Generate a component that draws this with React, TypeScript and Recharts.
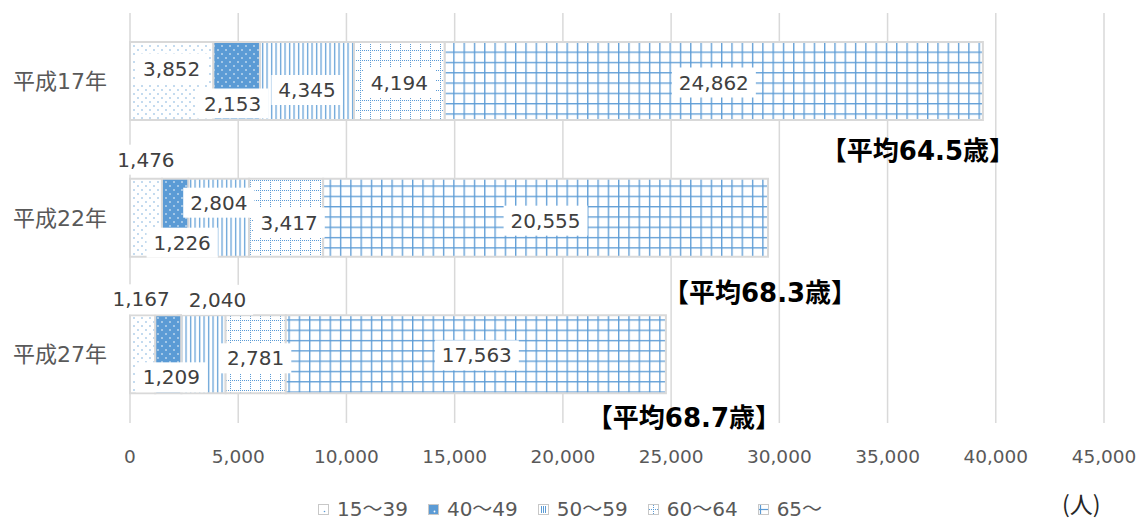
import React from 'react';
import { BarChart, Bar, XAxis, YAxis, CartesianGrid, Legend, LabelList } from 'recharts';

// 年齢階層別の人数（人）
const years = ['平成17年', '平成22年', '平成27年'];
const age15to39 = [3852, 1476, 1167];
const age40to49 = [2153, 1226, 1209];
const age50to59 = [4345, 2804, 2040];
const age60to64 = [4194, 3417, 2781];
const age65plus = [24862, 20555, 17563];
const averageAges = ['64.5', '68.3', '68.7'];
const xTicks = [0, 5000, 10000, 15000, 20000, 25000, 30000, 35000, 40000, 45000];

const series = [
  { key: 'a15', name: '15～39', values: age15to39, pattern: 'pat15' },
  { key: 'a40', name: '40～49', values: age40to49, pattern: 'pat40' },
  { key: 'a50', name: '50～59', values: age50to59, pattern: 'pat50' },
  { key: 'a60', name: '60～64', values: age60to64, pattern: 'pat60' },
  { key: 'a65', name: '65～', values: age65plus, pattern: 'pat65' },
];

// ラベル位置のずれ（Excel の配置に合わせる）[dx, dy]
const labelShift = [
  [[0, -12.5], [0, -58], [-1.5, -55]],
  [[-4, 22.5], [7, 25], [3, 23]],
  [[0, 9], [0, -15], [14, -54.5]],
  [[0, 1.5], [3, 5], [0, 4]],
  [[0, 1.5], [0, 3], [1, 1]],
];
const avgShift = [[-65, 31], [-8, 36], [18, 25]];

const data = years.map((year, i) => {
  const row: any = { year };
  series.forEach((s) => (row[s.key] = s.values[i]));
  return row;
});

const BLUE = '#5B9BD5';
const NUM_FONT = '"DejaVu Sans", "Noto Sans CJK JP", sans-serif';
const fmt = (v: number) => v.toLocaleString('en-US');

const textWidth = (s: string, size: number) =>
  s.split('').reduce((w, c) => w + (c === ',' || c === '.' ? 0.318 : 0.636) * size, 0);

const Patterns = () => (
  <defs>
    <pattern id="pat15" width="8" height="8" patternUnits="userSpaceOnUse">
      <rect width="8" height="8" fill="#fff" />
      <circle cx="2" cy="2" r="0.7" fill={BLUE} />
      <circle cx="6" cy="6" r="0.7" fill={BLUE} />
    </pattern>
    <pattern id="pat40" width="8" height="8" patternUnits="userSpaceOnUse">
      <rect width="8" height="8" fill={BLUE} />
      <circle cx="2" cy="2" r="0.8" fill="#fff" />
      <circle cx="6" cy="6" r="0.8" fill="#fff" />
    </pattern>
    <pattern id="pat50" width="4.5" height="4" patternUnits="userSpaceOnUse">
      <rect width="4.5" height="4" fill="#fff" />
      <rect x="1" width="1.2" height="4" fill={BLUE} />
    </pattern>
    <pattern id="pat60" width="10" height="10" patternUnits="userSpaceOnUse">
      <rect width="10" height="10" fill="#fff" />
      <line x1="0" y1="0.5" x2="10" y2="0.5" stroke={BLUE} strokeWidth="1" strokeDasharray="1 1" />
      <line x1="0.5" y1="0" x2="0.5" y2="10" stroke={BLUE} strokeWidth="1" strokeDasharray="1 1" />
    </pattern>
    <pattern id="pat65" width="10.3" height="10.3" patternUnits="userSpaceOnUse">
      <rect width="10.3" height="10.3" fill="#fff" />
      <line x1="0" y1="0.7" x2="10.3" y2="0.7" stroke={BLUE} strokeWidth="1.3" />
      <line x1="0.7" y1="0" x2="0.7" y2="10.3" stroke={BLUE} strokeWidth="1.3" />
    </pattern>
  </defs>
);

// 最後の系列から全ラベルを描く（他の棒に隠れないように）
const renderAllLabels = (props: any) => {
  const vb = props.viewBox ?? props;
  const { x, y, width, height } = vb;
  const i = typeof props.index === 'number' ? props.index : age65plus.indexOf(Number(props.value));
  if (i < 0) return null;
  const perUnit = width / age65plus[i];
  const before = age15to39[i] + age40to49[i] + age50to59[i] + age60to64[i];
  const x0 = x - before * perUnit;
  const cy = y + height / 2;
  let acc = 0;
  const labels = series.map((s, si) => {
    const v = s.values[i];
    const cx = x0 + (acc + v / 2) * perUnit + labelShift[si][i][0];
    acc += v;
    const ty = cy + labelShift[si][i][1];
    const txt = fmt(v);
    const w = textWidth(txt, 20) + 14;
    return (
      <g key={s.key}>
        <rect x={cx - w / 2} y={ty - 15} width={w} height={30} fill="#fff" />
        <text x={cx} y={ty} textAnchor="middle" dominantBaseline="central" fontSize={20} fontFamily={NUM_FONT} fill="#404040">
          {txt}
        </text>
      </g>
    );
  });
  return (
    <g>
      {labels}
      <text
        x={x + width + avgShift[i][0]}
        y={y + height + avgShift[i][1]}
        textAnchor="middle"
        dominantBaseline="central"
        fontSize={26}
        fontWeight="bold"
        fontFamily={NUM_FONT}
        fill="#000"
      >
        {`【平均${averageAges[i]}歳】`}
      </text>
    </g>
  );
};

// 凡例の小さなアイコン
const LegendIcon = ({ k }: { k: string }) => (
  <svg width={11} height={11} style={{ marginRight: 8 }}>
    <rect x={0.5} y={0.5} width={10} height={10} fill={k === 'a40' ? BLUE : '#fff'} stroke="#c8c8c8" />
    {k === 'a15' && <circle cx={6.5} cy={7.5} r={0.8} fill={BLUE} />}
    {k === 'a40' && <circle cx={6.5} cy={7.5} r={0.9} fill="#fff" />}
    {k === 'a50' && (
      <g stroke={BLUE} strokeWidth={1}>
        <line x1={3.5} y1={2} x2={3.5} y2={9} />
        <line x1={5.5} y1={2} x2={5.5} y2={9} />
        <line x1={7.5} y1={2} x2={7.5} y2={9} />
      </g>
    )}
    {k === 'a60' && (
      <g stroke={BLUE} strokeWidth={1} strokeDasharray="1 1">
        <line x1={1} y1={5.5} x2={10} y2={5.5} />
        <line x1={5.5} y1={1} x2={5.5} y2={10} />
      </g>
    )}
    {k === 'a65' && (
      <g stroke={BLUE} strokeWidth={1.2}>
        <line x1={1} y1={5.5} x2={10} y2={5.5} />
        <line x1={2.5} y1={1} x2={2.5} y2={10} />
      </g>
    )}
  </svg>
);

const renderLegend = () => (
  <div style={{ display: 'flex', alignItems: 'center', paddingLeft: 318, fontFamily: NUM_FONT, fontSize: 20, lineHeight: '24px', color: '#595959' }}>
    {series.map((s) => (
      <div key={s.key} style={{ display: 'flex', alignItems: 'center', marginRight: 20 }}>
        <LegendIcon k={s.key} />
        <span>{s.name}</span>
      </div>
    ))}
  </div>
);

export default function App() {
  return (
    <div style={{ position: 'absolute', left: 0, top: 0, width: 1142, height: 519, background: '#fff' }}>
      <BarChart
        width={1142}
        height={519}
        data={data}
        layout="vertical"
        margin={{ top: 13, right: 38, left: 0, bottom: 56 }}
        barSize={78}
      >
        <Patterns />
        <CartesianGrid horizontal={false} stroke="#d9d9d9" strokeWidth={1.5} />
        <XAxis
          type="number"
          domain={[0, 45000]}
          ticks={xTicks}
          tickFormatter={fmt}
          axisLine={false}
          tickLine={false}
          tickSize={0}
          tickMargin={27}
          height={40}
          tick={{ fill: '#595959', fontSize: 18.5, fontFamily: NUM_FONT }}
        />
        <YAxis
          type="category"
          dataKey="year"
          width={130}
          axisLine={false}
          tickLine={false}
          tickSize={0}
          tickMargin={23}
          tick={{ fill: '#595959', fontSize: 22, fontFamily: NUM_FONT }}
        />
        <Legend
          layout="horizontal"
          verticalAlign="middle"
          align="center"
          content={renderLegend}
          wrapperStyle={{ top: 497, left: 0, width: 1142 }}
        />
        {series.map((s) => (
          <Bar
            key={s.key}
            dataKey={s.key}
            name={s.name}
            stackId="total"
            fill={`url(#${s.pattern})`}
            stroke="#d9d9d9"
            strokeWidth={2}
            isAnimationActive={false}
          >
            {s.key === 'a65' && <LabelList dataKey="a65" content={renderAllLabels} />}
          </Bar>
        ))}
      </BarChart>
      <div
        style={{
          position: 'absolute',
          left: 1062,
          top: 491,
          lineHeight: '24px',
          fontFamily: '"Noto Sans CJK JP", sans-serif',
          fontSize: 23,
          color: '#262626',
        }}
      >
        (人)
      </div>
    </div>
  );
}
